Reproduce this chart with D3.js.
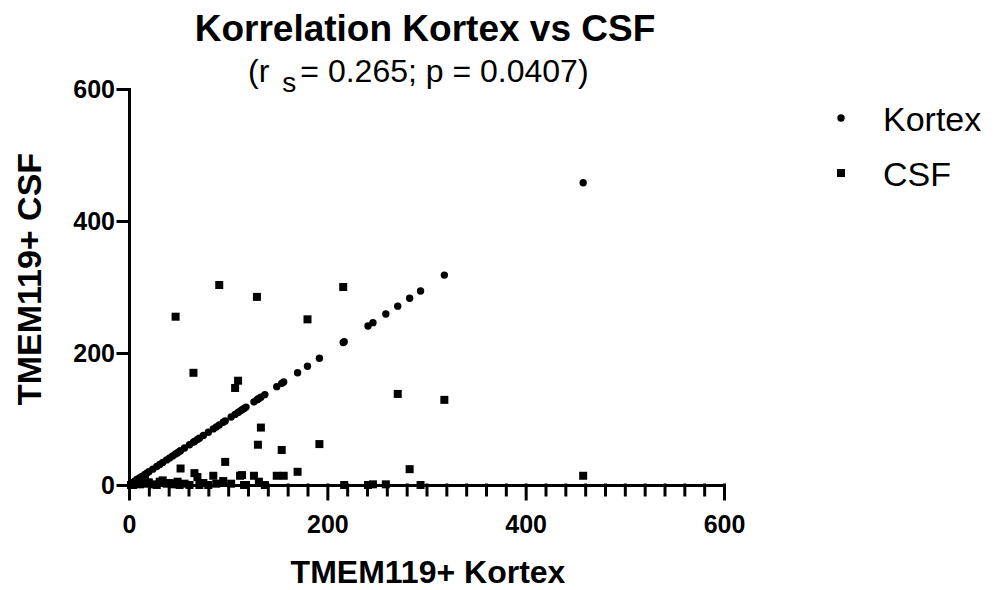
<!DOCTYPE html>
<html lang="de">
<head>
<meta charset="UTF-8">
<title>Korrelation Kortex vs CSF</title>
<script src="https://cdn.jsdelivr.net/npm/d3@7"></script>
<style>
    body{
        margin: 0;
        background: white;
    }
    svg{
        font-family: "Liberation Sans", Arial, sans-serif;
    }
    .axis path, .axis line{
        stroke: #000;
        stroke-width: 3px;
        stroke-linecap: square;
    }
    .axis text{
        font-size: 25px;
        font-weight: bold;
        fill: #000;
    }
</style>
</head>
<body>
<svg id="chart" width="997" height="590"></svg>
<script>
    // TMEM119+ values per sample (Kortex on x, both series share it)
    let kortexValues = [2, 4, 6, 9, 11, 13, 16, 18, 20, 24, 28, 31, 34, 38, 41, 44, 47, 49, 51, 52,
                        56, 61, 65, 66, 69, 71, 75, 80, 85, 88, 91, 95, 97, 103, 107, 110, 112, 114, 116, 118,
                        126, 129, 130, 131, 133, 137, 149, 154, 156, 170, 180, 192, 216, 217, 241, 246, 259, 271, 283, 294,
                        318, 458]
    let csfValues = [0, 0, 3, 7, 1, 3, 9, 2, 4, 1, 0, 5, 7, 2, 3, 1, 255, 5, 0, 25,
                     2, 0, 170, 18, 12, 0, 3, 0, 14, 2, 303, 6, 35, 2, 147, 158, 14, 15, 0, 0,
                     14, 285, 61, 5, 87, 0, 14, 53, 14, 20, 251, 62, 300, 0, 0, 1, 1, 138, 24, 0,
                     129, 14]
    let majorTicks = [0, 200, 400, 600]
    let seriesNames = ["Kortex", "CSF"]

    let svg = d3.select("#chart")

    let x = d3.scaleLinear().domain([0, 600]).range([129, 724])
    let y = d3.scaleLinear().domain([0, 600]).range([485, 89])

    // x axis: minor ticks every 20, major every 200
    let minor = d3.range(0, 601, 20).filter(d => majorTicks.indexOf(d) < 0)
    svg.append("g")
        .attr("class", "axis")
        .attr("transform", "translate(0," + y(0) + ")")
        .call(d3.axisBottom(x).tickValues(minor).tickSize(10).tickSizeOuter(0).tickFormat(""))
    let xAxis = svg.append("g")
        .attr("class", "axis")
        .attr("transform", "translate(0," + y(0) + ")")
        .call(d3.axisBottom(x).tickValues(majorTicks).tickSize(14).tickSizeOuter(0))
    xAxis.selectAll("text").attr("y", 30)

    let yAxis = svg.append("g")
        .attr("class", "axis")
        .attr("transform", "translate(" + x(0) + ",0)")
        .call(d3.axisLeft(y).tickValues(majorTicks).tickSize(11).tickSizeOuter(0))
    yAxis.selectAll("text").attr("x", -14)

    // Kortex series (lies on the diagonal)
    svg.append("g")
        .selectAll("circle")
        .data(kortexValues)
        .enter()
        .append("circle")
        .attr("cx", d => x(d))
        .attr("cy", d => y(d))
        .attr("r", 3.7)
        .attr("fill", "#000")

    // CSF series
    let sq = 8
    svg.append("g")
        .selectAll("rect")
        .data(kortexValues.map((k, i) => [k, csfValues[i]]))
        .enter()
        .append("rect")
        .attr("x", d => x(d[0]) - sq / 2)
        .attr("y", d => y(d[1]) - sq / 2)
        .attr("width", sq)
        .attr("height", sq)
        .attr("fill", "#000")

    // titles
    svg.append("text")
        .attr("x", 425)
        .attr("y", 41)
        .attr("text-anchor", "middle")
        .attr("font-size", 37)
        .attr("font-weight", "bold")
        .text("Korrelation Kortex vs CSF")

    let sub = svg.append("text")
        .attr("x", 248)
        .attr("y", 82)
        .attr("font-size", 32)
    sub.append("tspan").text("(r")
    sub.append("tspan").attr("dx", 13).attr("dy", 10).attr("font-size", 28).text("s")
    sub.append("tspan").attr("dx", 4).attr("dy", -10).text("= 0.265; p = 0.0407)")

    svg.append("text")
        .attr("x", 428)
        .attr("y", 583)
        .attr("text-anchor", "middle")
        .attr("font-size", 32)
        .attr("font-weight", "bold")
        .text("TMEM119+ Kortex")

    svg.append("text")
        .attr("transform", "translate(41,279) rotate(-90)")
        .attr("text-anchor", "middle")
        .attr("font-size", 34)
        .attr("font-weight", "bold")
        .text("TMEM119+ CSF")

    // legend
    let legend = svg.append("g")
        .selectAll("g")
        .data(seriesNames)
        .enter()
        .append("g")
        .attr("transform", (d, i) => "translate(0," + (118 + i * 55) + ")")
    legend.filter((d, i) => i === 0).append("circle")
        .attr("cx", 841).attr("cy", 0).attr("r", 3.7).attr("fill", "#000")
    legend.filter((d, i) => i === 1).append("rect")
        .attr("x", 837).attr("y", -4).attr("width", 8).attr("height", 8).attr("fill", "#000")
    legend.append("text")
        .attr("x", 883)
        .attr("y", 13)
        .attr("font-size", 34)
        .text(d => d)
</script>
</body>
</html>
